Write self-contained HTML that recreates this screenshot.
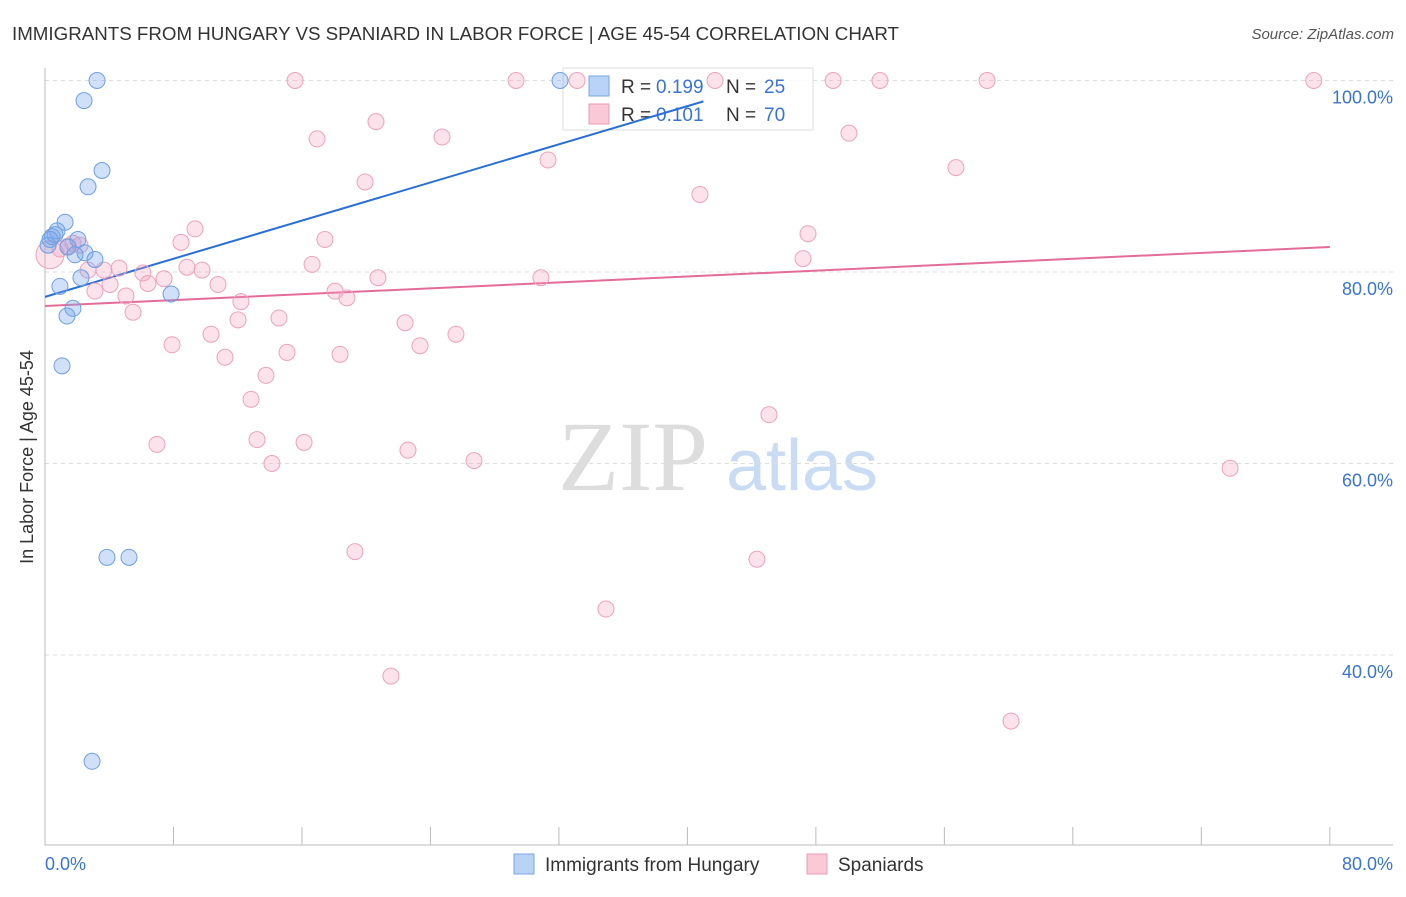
<!DOCTYPE html>
<html><head><meta charset="utf-8"><style>
body{margin:0;background:#fff;font-family:"Liberation Sans",sans-serif;}
</style></head><body>
<svg id="c" width="1406" height="892" xmlns="http://www.w3.org/2000/svg">
<text x="12" y="40" font-size="18" fill="#333" textLength="887" lengthAdjust="spacingAndGlyphs">IMMIGRANTS FROM HUNGARY VS SPANIARD IN LABOR FORCE | AGE 45-54 CORRELATION CHART</text>
<text x="1394" y="39" font-size="15" fill="#555" text-anchor="end" font-style="italic">Source: ZipAtlas.com</text>
<text transform="translate(33,457) rotate(-90)" font-size="18" fill="#333" text-anchor="middle">In Labor Force | Age 45-54</text>
<g><text x="633" y="490" font-size="100" fill="#ddd" font-family="Liberation Serif" text-anchor="middle">ZIP</text><text x="802" y="490" font-size="72" fill="#c9dcf3" text-anchor="middle">atlas</text></g>
<g id="grid"></g><g id="axes"></g>
<g>
<rect x="563" y="68" width="250" height="62" fill="#fff" fill-opacity="0.85" stroke="#ddd"/>
<rect x="589" y="76" width="20" height="20" fill="#b8d3f5" stroke="#7aa7e0"/>
<text x="621" y="93" font-size="19" fill="#333">R =</text><text x="656" y="93" font-size="19" fill="#3a74d0">0.199</text>
<text x="726" y="93" font-size="19" fill="#333">N =</text><text x="764" y="93" font-size="19" fill="#3a74d0">25</text>
<rect x="589" y="104" width="20" height="20" fill="#f9c9d8" stroke="#e99ab5"/>
<text x="621" y="121" font-size="19" fill="#333">R =</text><text x="656" y="121" font-size="19" fill="#3a74d0">0.101</text>
<text x="726" y="121" font-size="19" fill="#333">N =</text><text x="764" y="121" font-size="19" fill="#3a74d0">70</text>
</g>
<g id="trend"></g><g id="pts"></g>
<g>
<rect x="514" y="854" width="20" height="20" fill="#b8d3f5" stroke="#7aa7e0"/>
<text x="545" y="871" font-size="19" fill="#333">Immigrants from Hungary</text>
<rect x="807" y="854" width="20" height="20" fill="#f9c9d8" stroke="#e99ab5"/>
<text x="838" y="871" font-size="19" fill="#333">Spaniards</text>
</g>
</svg>
<script>
const hungaryX=[3.24,2.43,3.55,2.68,1.25,0.75,0.44,0.31,2.05,1.43,2.49,1.87,3.11,2.24,0.93,1.74,1.37,1.06,7.85,3.86,5.23,2.93,32.07,0.19,0.62];
const hungaryY=[100,97.9,90.6,88.9,85.2,84.3,83.7,83.4,83.4,82.6,82.0,81.8,81.3,79.4,78.5,76.2,75.4,70.2,77.7,50.2,50.2,28.9,100,82.8,83.9];
const spainX=[15.57,29.33,33.13,41.72,49.07,51.99,58.66,79.0,16.94,20.61,24.72,50.06,31.32,19.93,56.72,40.78,9.34,8.47,17.43,47.51,16.63,47.2,1.74,0.93,2.68,3.67,4.61,6.1,7.41,8.84,9.78,6.41,10.77,4.05,3.11,5.04,20.73,18.06,18.8,30.88,5.48,12.2,14.57,12.02,22.42,25.59,10.34,7.91,15.07,18.37,23.35,11.21,13.76,12.83,45.08,13.2,16.13,6.97,14.13,22.6,26.71,73.79,19.3,44.33,34.93,21.54,60.15,0.31,1.43,2.18];
const spainY=[100,100,100,100,100,100,100,100,93.9,95.7,94.1,94.5,91.7,89.4,90.9,88.1,84.5,83.1,83.4,84.0,80.8,81.4,83.0,82.4,80.2,80.2,80.4,79.9,79.3,80.5,80.2,78.8,78.7,78.7,78.0,77.5,79.4,78.0,77.3,79.4,75.8,76.9,75.2,75.0,74.7,73.5,73.5,72.4,71.6,71.4,72.3,71.1,69.2,66.7,65.1,62.5,62.2,62.0,60.0,61.4,60.3,59.5,50.8,50.0,44.8,37.8,33.1,81.8,82.7,82.8];
const trendHungary=[77.4,0.498,41.0];
const trendSpain=[76.45,0.077,80];
const yTicks=[100,80,60,40];
const NS="http://www.w3.org/2000/svg";
const X=v=>45+v*16.06, Y=v=>80.5+(100-v)*9.575;
function mk(p,t,a){const e=document.createElementNS(NS,t);for(const k in a)e.setAttribute(k,a[k]);document.getElementById(p).appendChild(e);return e;}
yTicks.forEach(t=>{
 const l=mk('grid','line',{x1:45,x2:1393,y1:Y(t),y2:Y(t),stroke:'#ddd','stroke-dasharray':'4,4'});
 
 
 const tx=mk('grid','text',{x:1393,y:Y(t)+23,'font-size':18,fill:'#3a74d0','text-anchor':'end'});
 tx.textContent=t.toFixed(1)+'%';
 
 
});
let a=mk('axes','line',{x1:45,x2:45,y1:68,y2:845,stroke:'#bbb'});


a=mk('axes','line',{x1:45,x2:1393,y1:845,y2:845,stroke:'#bbb'});


for(let i=0;i<=10;i++){const t=mk('axes','line',{x1:X(i*8),x2:X(i*8),y1:827,y2:845,stroke:'#bbb'});
 
 }
[['0.0%',45,'start'],['80.0%',1393,'end']].forEach(d=>{const t=mk('axes','text',{x:d[1],y:870,'font-size':18,fill:'#3a74d0','text-anchor':d[2]});t.textContent=d[0];
 
 });
spainX.forEach((x,i)=>{const big=(i==67);const c=mk('pts','circle',{cx:X(x),cy:Y(spainY[i]),r:big?14:8,fill:'rgba(244,160,190,0.3)',stroke:'#eba3bd','stroke-width':1});
 
 });
hungaryX.forEach((x,i)=>{const c=mk('pts','circle',{cx:X(x),cy:Y(hungaryY[i]),r:8,fill:'rgba(120,165,235,0.35)',stroke:'#6f9fe0','stroke-width':1});
 
 });
let tl=mk('trend','line',{x1:X(0),y1:Y(trendHungary[0]),x2:X(trendHungary[2]),y2:Y(trendHungary[0]+trendHungary[1]*trendHungary[2]),stroke:'#2a6fd6','stroke-width':2});


tl=mk('trend','line',{x1:X(0),y1:Y(trendSpain[0]),x2:X(trendSpain[2]),y2:Y(trendSpain[0]+trendSpain[1]*trendSpain[2]),stroke:'#e36c98','stroke-width':2});


</script>
</body></html>
